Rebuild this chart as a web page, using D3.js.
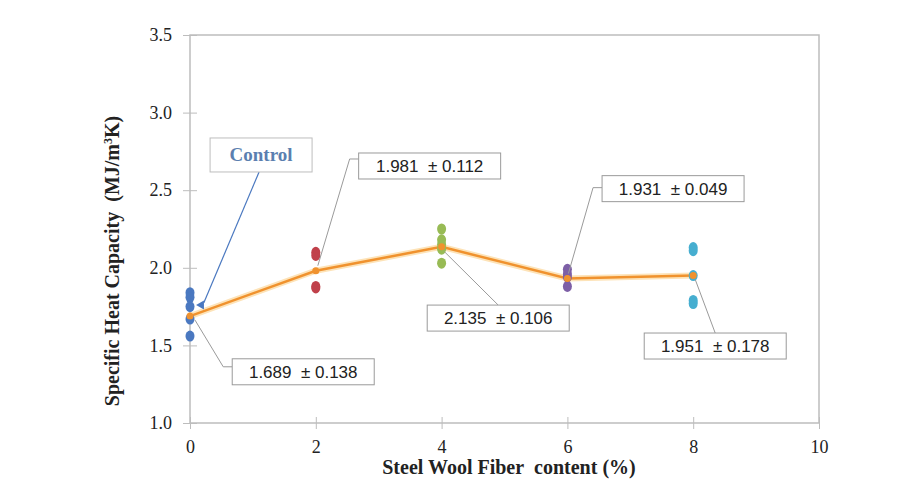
<!DOCTYPE html>
<html>
<head>
<meta charset="utf-8">
<script src="https://cdn.jsdelivr.net/npm/d3@7"></script>
<style>
  body { margin: 0; background: #fff; }
  svg { display: block; }
</style>
</head>
<body>
<div id="chart"></div>
<script>
// fibre content groups
var groups = [0, 2, 4, 6, 8];
var groupColors = ["#4a78c0", "#c0404a", "#98bb55", "#7d5fa6", "#46aed0"];
// measured specimens per group
var samples = [
  [1.84, 1.81, 1.75, 1.67, 1.56],
  [2.10, 2.08, 1.88, 1.87],
  [2.25, 2.18, 2.15, 2.12, 2.03],
  [1.99, 1.96, 1.94, 1.88],
  [2.13, 2.11, 1.95, 1.79, 1.77]
];
var means = [1.689, 1.981, 2.135, 1.931, 1.951];
var sds = [0.138, 0.112, 0.106, 0.049, 0.178];
var xTicks = [0, 2, 4, 6, 8, 10];
var yTicks = [1.0, 1.5, 2.0, 2.5, 3.0, 3.5];
// label box centres, data coords
var labelPos = [[1.80, 1.33], [3.81, 2.656], [4.90, 1.676], [7.68, 2.51], [8.35, 1.496]];

var serif = "'Liberation Serif', 'Times New Roman', serif";
var W = 922, H = 500;
var margin = {left: 190, top: 35, right: 103, bottom: 77};
var pw = W - margin.left - margin.right, ph = H - margin.top - margin.bottom;

var svg = d3.select("#chart").append("svg").attr("width", W).attr("height", H);
var g = svg.append("g").attr("transform", "translate(" + margin.left + "," + margin.top + ")");

var x = d3.scaleLinear().domain([0, 10]).range([0, pw]);
var y = d3.scaleLinear().domain([1.0, 3.5]).range([ph, 0]);

// frame
g.append("rect").attr("width", pw).attr("height", ph)
  .attr("fill", "none").attr("stroke", "#bdbdbd").attr("stroke-width", 1.5);

var yAxis = g.append("g").call(d3.axisLeft(y).tickValues(yTicks).tickFormat(d3.format(".1f")).tickSize(7).tickPadding(11));
yAxis.select(".domain").remove();
yAxis.selectAll(".tick line").attr("stroke", "#bdbdbd").attr("x2", 7).attr("x1", -7);
yAxis.selectAll(".tick text").attr("font-family", serif).attr("font-size", 18).attr("fill", "#222");

var xAxis = g.append("g").attr("transform", "translate(0," + ph + ")")
  .call(d3.axisBottom(x).tickValues(xTicks).tickSize(6).tickPadding(11));
xAxis.select(".domain").remove();
xAxis.selectAll(".tick line").attr("stroke", "#bdbdbd").attr("y1", -6).attr("y2", 6);
xAxis.selectAll(".tick text").attr("font-family", serif).attr("font-size", 18).attr("fill", "#222");

// axis titles
svg.append("text").attr("text-anchor", "middle")
  .attr("font-family", serif).attr("font-weight", "bold").attr("font-size", 20).attr("fill", "#222")
  .attr("x", 509).attr("y", 474).text("Steel Wool Fiber\u00a0 content (%)");
var yt = svg.append("text").attr("text-anchor", "middle")
  .attr("font-family", serif).attr("font-weight", "bold").attr("font-size", 20).attr("fill", "#222")
  .attr("transform", "translate(119,261) rotate(-90)");
yt.append("tspan").text("Specific Heat Capacity\u00a0 (MJ/m");
yt.append("tspan").attr("font-size", 12).attr("dy", -7).text("3");
yt.append("tspan").attr("dy", 7).text("K)");

// mean line
var line = d3.line().x(function(d, i){ return x(groups[i]); }).y(function(d){ return y(d); });
g.append("path").datum(means).attr("d", line).attr("fill", "none")
  .attr("stroke", "#fde3b8").attr("stroke-width", 6);
g.append("path").datum(means).attr("d", line).attr("fill", "none")
  .attr("stroke", "#f0922e").attr("stroke-width", 2.5);

// specimens
for (var i = 0; i < groups.length; i++) {
  g.selectAll(".pt" + i).data(samples[i]).enter().append("ellipse")
    .attr("cx", x(groups[i])).attr("cy", function(d){ return y(d); })
    .attr("rx", 4.5).attr("ry", 5.5).attr("fill", groupColors[i]);
}
g.selectAll(".mean").data(means).enter().append("circle")
  .attr("cx", function(d, i){ return x(groups[i]); }).attr("cy", function(d){ return y(d); })
  .attr("r", 3.5).attr("fill", "#f0922e");

// leader lines + labels
var boxW = 142, boxH = 26;
for (var k = 0; k < groups.length; k++) {
  var px = x(groups[k]), py = y(means[k]);
  var bx = x(labelPos[k][0]), by = y(labelPos[k][1]);
  var bLeft = bx - boxW / 2, bTop = by - boxH / 2;
  var pts;
  if (k == 0) pts = [[px + 5, py + 4], [bLeft - 9, by - 5], [bLeft, by - 5]];
  else if (k == 1) pts = [[px + 2, py - 5], [bLeft - 9, bTop + 6], [bLeft, bTop + 6]];
  else if (k == 3) pts = [[px + 1, py - 5], [bLeft - 9, by - 1], [bLeft, by - 1]];
  else if (k == 2) pts = [[px + 3, py + 5], [bx, bTop]];
  else pts = [[px + 2, py + 4], [bx, bTop]];
  g.append("path").attr("d", d3.line()(pts)).attr("fill", "none")
    .attr("stroke", "#9a9a9a").attr("stroke-width", 1);
  g.append("rect").attr("x", bLeft).attr("y", bTop)
    .attr("width", boxW).attr("height", boxH)
    .attr("fill", "#fff").attr("stroke", "#9a9a9a").attr("stroke-width", 1);
  g.append("text").attr("text-anchor", "middle")
    .attr("font-family", "'Liberation Sans', sans-serif").attr("font-size", 17).attr("fill", "#222")
    .attr("x", bx).attr("y", by + 6)
    .text(d3.format(".3f")(means[k]) + "\u00a0 \u00b1 " + d3.format(".3f")(sds[k]));
}

// control callout
var cx0 = x(1.13), cy0 = y(2.727);
g.append("line").attr("x1", cx0 - 2).attr("y1", cy0 + 17)
  .attr("x2", x(0.22)).attr("y2", y(1.775))
  .attr("stroke", "#4a78c0").attr("stroke-width", 1.2);
g.append("path").attr("d", d3.symbol(d3.symbolTriangle, 36)())
  .attr("transform", "translate(" + x(0.18) + "," + y(1.76) + ") rotate(-90)")
  .attr("fill", "#4a78c0");
g.append("rect").attr("x", cx0 - 51).attr("y", cy0 - 17).attr("width", 102).attr("height", 34)
  .attr("fill", "#fff").attr("stroke", "#bdbdbd");
g.append("text").attr("text-anchor", "middle").attr("x", cx0).attr("y", cy0 + 6)
  .attr("font-family", serif).attr("font-weight", "bold").attr("font-size", 19)
  .attr("fill", "#5b7fb0").text("Control");
</script>
</body>
</html>
